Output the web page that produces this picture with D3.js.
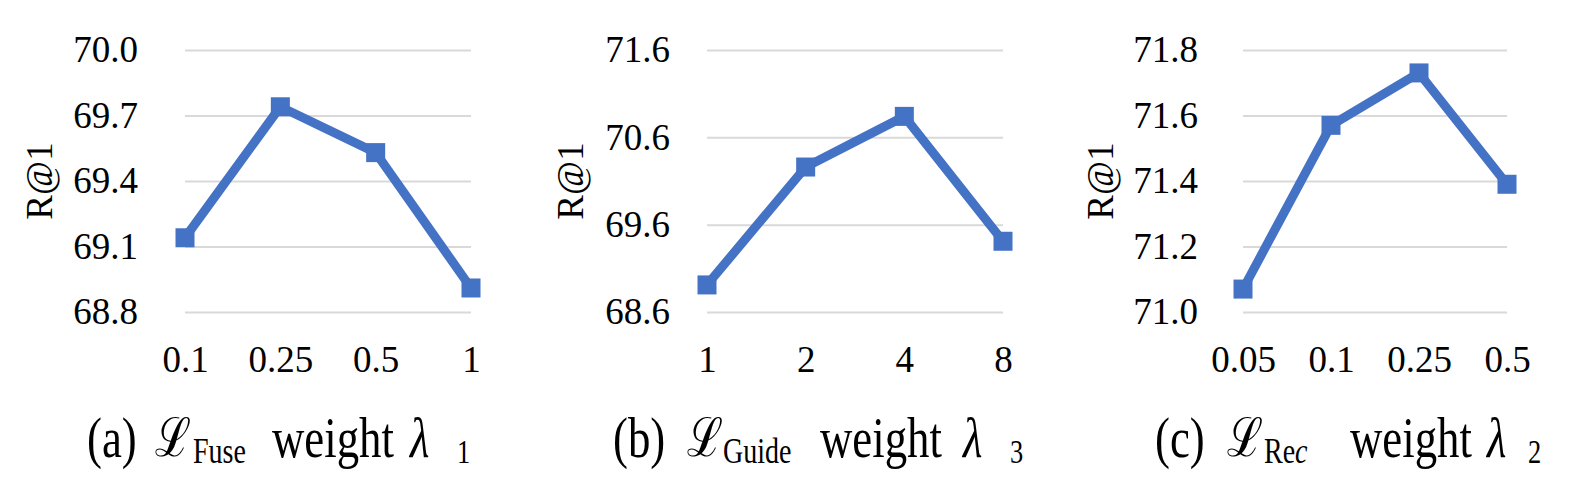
<!DOCTYPE html>
<html>
<head>
<meta charset="utf-8">
<script src="https://cdn.jsdelivr.net/npm/d3@7"></script>
<style>
  svg text, svg tspan { font-family: "Liberation Serif", "Times New Roman" !important; }
</style>
</head>
<body style="margin:0;background:#fff">
<div id="chart"></div>
<script>
"use strict"

// values
var fuseWeights = ["0.1", "0.25", "0.5", "1"];
var fuseR1 = [69.14, 69.74, 69.53, 68.91];
var fuseTicks = [68.8, 69.1, 69.4, 69.7, 70.0];

var guideWeights = ["1", "2", "4", "8"];
var guideR1 = [68.91, 70.26, 70.84, 69.41];
var guideTicks = [68.6, 69.6, 70.6, 71.6];

var recWeights = ["0.05", "0.1", "0.25", "0.5"];
var recR1 = [71.07, 71.57, 71.73, 71.39];
var recTicks = [71.0, 71.2, 71.4, 71.6, 71.8];

var yLabel = "R@1";

var width = 1577;
var height = 497;
var plotTop = 50, plotBottom = 312;
var blue = "#4472C4";
var grid = "#d9d9d9";
var fontSize = 37;
var faceName = "Liberation Serif";

// layout of each small chart; caption pieces get their own x (letter, L, subscript, weight, lambda, index)
var panels = [
  { cats: fuseWeights, vals: fuseR1, ticks: fuseTicks, x0: 185, x1: 471, gap: 47, labelX: 52,
    cap: { letter: "(a)", sub: "Fuse", subItalic: "", idx: "1", xs: [87, 155, 193, 272, 410, 457] } },
  { cats: guideWeights, vals: guideR1, ticks: guideTicks, x0: 707, x1: 1003, gap: 37, labelX: 583,
    cap: { letter: "(b)", sub: "Guide", subItalic: "", idx: "3", xs: [613, 687, 723, 820, 963, 1010] } },
  { cats: recWeights, vals: recR1, ticks: recTicks, x0: 1243, x1: 1507, gap: 45, labelX: 1113,
    cap: { letter: "(c)", sub: "Re", subItalic: "c", idx: "2", xs: [1155, 1227, 1264, 1350, 1487, 1528] } }
];

var svg = d3.select("#chart").append("svg")
  .attr("width", width)
  .attr("height", height)
  .attr("font-family", faceName);

function serifText(sel) {
  return sel.attr("font-family", faceName).style("font-family", "'" + faceName + "'").attr("fill", "#000");
}

function captionPiece(x, y, size, txt, italic) {
  var t = svg.append("g")
    .attr("transform", "translate(" + x + "," + y + ") scale(0.8,1)")
    .append("text")
    .call(serifText)
    .attr("font-size", size)
    .text(txt);
  if (italic) t.style("font-style", "italic");
  return t;
}

panels.forEach(function(p) {
  var x = d3.scalePoint().domain(p.cats).range([p.x0, p.x1]).padding(0);
  var y = d3.scaleLinear().domain(d3.extent(p.ticks)).range([plotBottom, plotTop]);

  // horizontal gridlines + y tick labels
  var yAxis = svg.append("g")
    .attr("transform", "translate(" + p.x0 + ",0)")
    .call(d3.axisLeft(y).tickValues(p.ticks).tickSize(-(p.x1 - p.x0))
      .tickPadding(p.gap).tickFormat(d3.format(".1f")));
  yAxis.attr("font-family", faceName);
  yAxis.select(".domain").remove();
  yAxis.selectAll("line").attr("stroke", grid).attr("stroke-width", 2);
  yAxis.selectAll("text").call(serifText).attr("font-size", fontSize);

  // category labels
  var xAxis = svg.append("g")
    .attr("transform", "translate(0," + plotBottom + ")")
    .call(d3.axisBottom(x).tickSize(0).tickPadding(34));
  xAxis.attr("font-family", faceName);
  xAxis.select(".domain").remove();
  xAxis.selectAll("text").call(serifText).attr("font-size", fontSize);

  var line = d3.line()
    .x(function(d, i) { return x(p.cats[i]); })
    .y(function(d) { return y(d); });

  svg.append("path")
    .datum(p.vals)
    .attr("d", line)
    .attr("fill", "none")
    .attr("stroke", blue)
    .attr("stroke-width", 9)
    .attr("stroke-linejoin", "round");

  var m = 19;
  svg.selectAll(null)
    .data(p.vals)
    .enter().append("rect")
    .attr("x", function(d, i) { return x(p.cats[i]) - m / 2; })
    .attr("y", function(d) { return y(d) - m / 2; })
    .attr("width", m)
    .attr("height", m)
    .attr("fill", blue);

  svg.append("text")
    .call(serifText)
    .attr("transform", "translate(" + p.labelX + "," + (plotTop + plotBottom) / 2 + ") rotate(-90)")
    .attr("text-anchor", "middle")
    .attr("font-size", fontSize)
    .text(yLabel);

  // caption, squeezed horizontally like the original
  var c = p.cap, xs = c.xs;
  captionPiece(xs[0], 457, 56, c.letter);
  captionPiece(xs[1], 456, 54, "\u2112");
  var s = captionPiece(xs[2], 463, 35, c.sub);
  if (c.subItalic) s.append("tspan").style("font-style", "italic").text(c.subItalic);
  captionPiece(xs[3], 457, 56, "weight");
  captionPiece(xs[4], 457, 56, "\u03bb", true);
  captionPiece(xs[5], 463, 33, c.idx);
});
</script>
</body>
</html>
